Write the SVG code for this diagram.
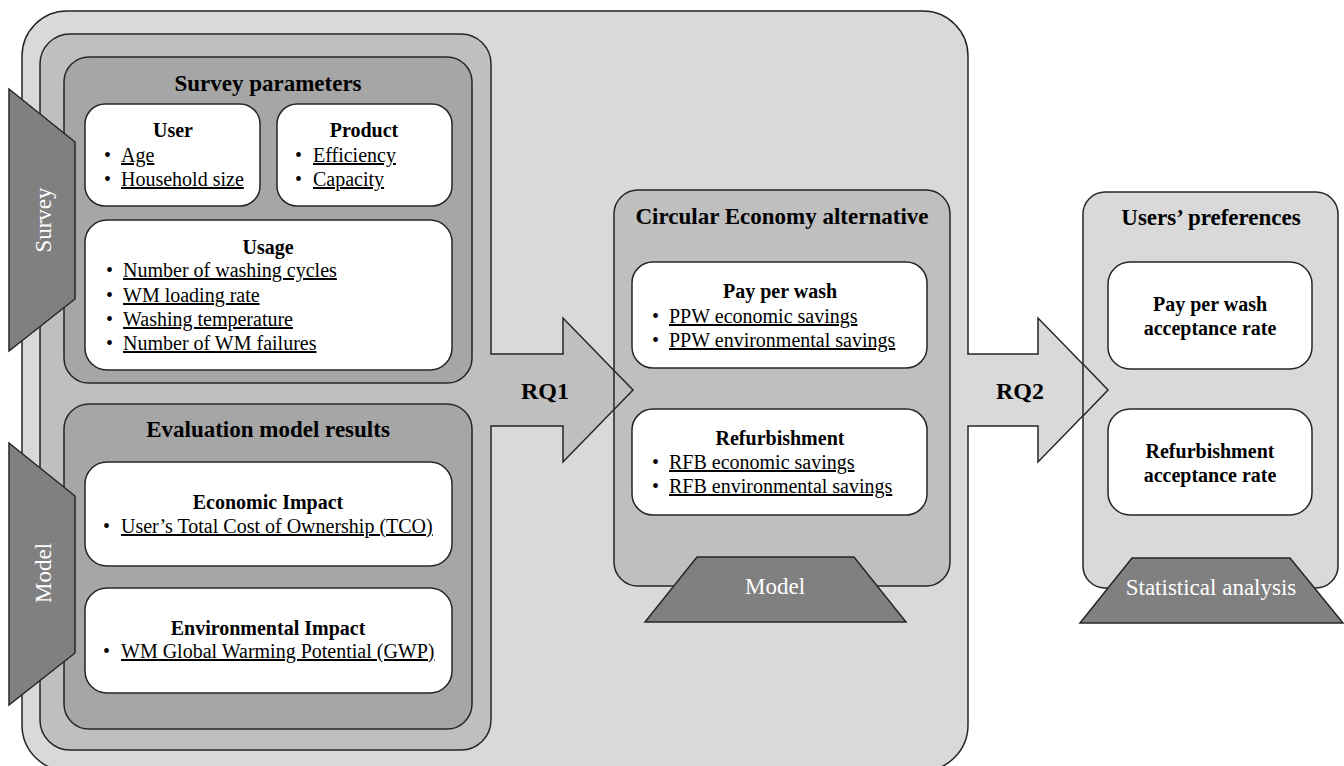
<svg xmlns="http://www.w3.org/2000/svg" width="1344" height="766" viewBox="0 0 1344 766">
<style>
.s{stroke:#262626;stroke-width:1.5;stroke-linejoin:miter}
.l1{fill:#d9d9d9}
.l2{fill:#bfbfbf}
.l3{fill:#a6a6a6}
.w{fill:#ffffff}
.dk{fill:#808080}
.no{fill:none}
text{font-family:"Liberation Serif","Times New Roman",serif;fill:#000}
.t{font-size:23px;font-weight:bold;text-anchor:middle}
.h{font-size:20px;font-weight:bold;text-anchor:middle}
.b{font-size:20px}
.u{font-size:20px;text-decoration:underline}
.rq{font-size:24px;font-weight:bold;text-anchor:middle}
.lab{font-size:23px;fill:#ffffff;text-anchor:middle}
</style>
<rect width="1344" height="766" fill="#ffffff"/>
<g id="outer">
<path class="s l1" d="M67,11 H923 A45,45 0 0 1 968,56 V354 H1038 V318 L1108,390 L1038,462 V426 H968 V725 A46,46 0 0 1 922,771 H68 A46,46 0 0 1 22,725 V56 A45,45 0 0 1 67,11 Z"/>
</g>
<g id="inputs">
<path class="s l2" d="M70,34 H461 A30,30 0 0 1 491,64 V354 H563 V318 L633,390 L563,462 V426 H491 V720 A30,30 0 0 1 461,750 H70 A30,30 0 0 1 40,720 V64 A30,30 0 0 1 70,34 Z"/>
</g>
<g id="survey-parameters">
<rect class="s l3" x="64" y="57" width="408" height="326" rx="25"/>
<text class="t" x="268" y="91">Survey parameters</text>
</g>
<g id="user">
<rect class="s w" x="85" y="104" width="175" height="102" rx="20"/>
<text class="h" x="173" y="137">User</text>
<text class="b" x="104" y="162">•</text><text class="u" x="121" y="162">Age</text>
<text class="b" x="104" y="186">•</text><text class="u" x="121" y="186">Household size</text>
</g>
<g id="product">
<rect class="s w" x="277" y="104" width="175" height="102" rx="20"/>
<text class="h" x="364" y="137">Product</text>
<text class="b" x="295" y="162">•</text><text class="u" x="313" y="162">Efficiency</text>
<text class="b" x="295" y="186">•</text><text class="u" x="313" y="186">Capacity</text>
</g>
<g id="usage">
<rect class="s w" x="85" y="220" width="367" height="150" rx="22"/>
<text class="h" x="268" y="254">Usage</text>
<text class="b" x="106" y="277">•</text><text class="u" x="123" y="277">Number of washing cycles</text>
<text class="b" x="106" y="302">•</text><text class="u" x="123" y="302">WM loading rate</text>
<text class="b" x="106" y="326">•</text><text class="u" x="123" y="326">Washing temperature</text>
<text class="b" x="106" y="350">•</text><text class="u" x="123" y="350">Number of WM failures</text>
</g>
<g id="evaluation-model-results">
<rect class="s l3" x="64" y="404" width="408" height="325" rx="25"/>
<text class="t" x="268" y="437">Evaluation model results</text>
</g>
<g id="economic-impact">
<rect class="s w" x="85" y="462" width="367" height="104" rx="22"/>
<text class="h" x="268" y="509">Economic Impact</text>
<text class="b" x="103" y="533">•</text><text class="u" x="121" y="533">User’s Total Cost of Ownership (TCO)</text>
</g>
<g id="environmental-impact">
<rect class="s w" x="85" y="588" width="367" height="105" rx="22"/>
<text class="h" x="268" y="635">Environmental Impact</text>
<text class="b" x="103" y="658">•</text><text class="u" x="121" y="658">WM Global Warming Potential (GWP)</text>
</g>
<g id="survey-tab">
<polygon class="s dk" points="9,89 75,142 75,299 9,351"/>
<text class="lab" transform="translate(51,220) rotate(-90)">Survey</text>
</g>
<g id="model-tab">
<polygon class="s dk" points="9,443 75,496 75,653 9,705"/>
<text class="lab" transform="translate(51,573) rotate(-90)">Model</text>
</g>
<g id="circular-economy">
<rect class="s l2" x="614" y="190" width="336" height="396" rx="24"/>
<text class="t" x="782" y="224">Circular Economy alternative</text>
</g>
<g id="pay-per-wash">
<rect class="s w" x="632" y="262" width="295" height="106" rx="21"/>
<text class="h" x="780" y="298">Pay per wash</text>
<text class="b" x="652" y="323">•</text><text class="u" x="669" y="323">PPW economic savings</text>
<text class="b" x="652" y="347">•</text><text class="u" x="669" y="347">PPW environmental savings</text>
</g>
<g id="refurbishment">
<rect class="s w" x="632" y="409" width="295" height="106" rx="21"/>
<text class="h" x="780" y="445">Refurbishment</text>
<text class="b" x="652" y="469">•</text><text class="u" x="669" y="469">RFB economic savings</text>
<text class="b" x="652" y="493">•</text><text class="u" x="669" y="493">RFB environmental savings</text>
</g>
<g id="model-base">
<polygon class="s dk" points="697,557 854,557 906,622 645,622"/>
<text class="lab" x="775" y="594">Model</text>
</g>
<g id="users-preferences">
<rect class="s l1" x="1083" y="192" width="255" height="396" rx="22"/>
<text class="t" x="1211" y="225">Users’ preferences</text>
</g>
<g id="ppw-acceptance">
<rect class="s w" x="1108" y="262" width="204" height="107" rx="22"/>
<text class="h" x="1210" y="311">Pay per wash</text>
<text class="h" x="1210" y="335">acceptance rate</text>
</g>
<g id="rfb-acceptance">
<rect class="s w" x="1108" y="409" width="204" height="106" rx="22"/>
<text class="h" x="1210" y="458">Refurbishment</text>
<text class="h" x="1210" y="482">acceptance rate</text>
</g>
<g id="stat-base">
<polygon class="s dk" points="1132,558 1290,558 1343,623 1080,623"/>
<text class="lab" x="1211" y="595">Statistical analysis</text>
</g>
<g id="connectors">
<path class="s no" d="M614,370.5 L633,390 L614,409.5"/>
<path class="s no" d="M1083,364 L1108,390 L1083,416"/>
<text class="rq" x="545" y="399">RQ1</text>
<text class="rq" x="1020" y="399">RQ2</text>
</g>
</svg>
